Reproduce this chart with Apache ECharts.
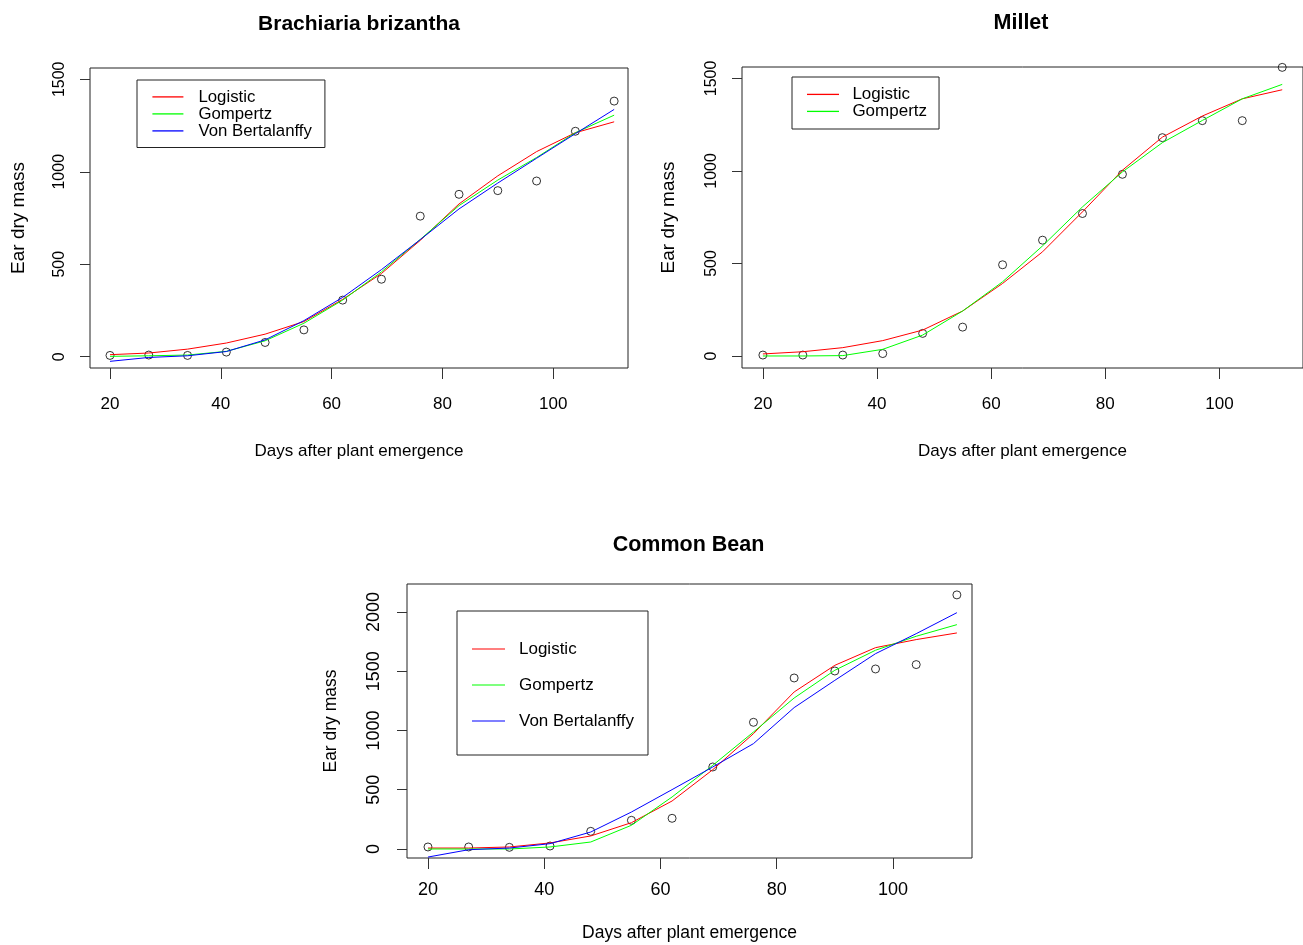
<!DOCTYPE html>
<html>
<head>
<meta charset="utf-8">
<script src="https://cdn.jsdelivr.net/npm/echarts@6/dist/echarts.min.js"></script>
<style>
html,body{margin:0;padding:0;background:#fff;}
#chart{width:1303px;height:945px;}
</style>
</head>
<body>
<div id="chart"></div>
<script>
// ---- data ----
const days = [20, 27, 34, 41, 48, 55, 62, 69, 76, 83, 90, 97, 104, 111];

const brachObs  = [7, 9, 7, 25, 77, 145, 306, 419, 760, 878, 898, 950, 1219, 1382];
const brachLog  = [11, 20, 41, 74, 122, 190, 310, 450, 629, 826, 978, 1109, 1211, 1270];
const brachGomp = [2, 5, 9, 29, 86, 181, 306, 459, 634, 817, 955, 1077, 1211, 1306];
const brachVB   = [-25, -4, 5, 28, 91, 195, 321, 471, 633, 799, 939, 1073, 1206, 1337];

const milletObs  = [5, 5, 5, 13, 122, 156, 493, 626, 770, 982, 1180, 1272, 1272, 1560];
const milletLog  = [11, 23, 45, 83, 140, 243, 392, 563, 779, 1004, 1183, 1297, 1390, 1439];
const milletGomp = [0, 0, 2, 36, 113, 243, 401, 595, 806, 995, 1153, 1273, 1390, 1468];

const beanObs  = [17, 17, 14, 25, 149, 242, 259, 692, 1069, 1443, 1502, 1519, 1556, 2144];
const beanLog  = [8, 8, 17, 51, 110, 222, 405, 669, 973, 1325, 1550, 1699, 1767, 1823];
const beanGomp = [0, 0, 0, 17, 59, 200, 439, 706, 987, 1274, 1508, 1677, 1795, 1893];
const beanVB   = [-68, -6, 8, 45, 143, 312, 501, 692, 889, 1193, 1423, 1648, 1817, 1994];

const xTicks = [20, 40, 60, 80, 100];
const yTicksTop = [0, 500, 1000, 1500];
const yTicksBean = [0, 500, 1000, 1500, 2000];

const titles = ['Brachiaria brizantha', 'Millet', 'Common Bean'];
const xName = 'Days after plant emergence';
const yName = 'Ear dry mass';
const modelNames = ['Logistic', 'Gompertz', 'Von Bertalanffy'];
const modelColors = ['#FF0000', '#00FF00', '#0000FF'];

// ---- helpers ----
const pairs = (vals) => days.map((d, i) => [d, vals[i]]);
const SANS = '"Liberation Sans", Arial, sans-serif';
const plain = (v) => String(v);

function xAxis(gi, min, max, labelSize, labelMargin, nameSize, nameGap) {
  return {
    type: 'value', gridIndex: gi, min: min, max: max,
    axisLine: { show: false, onZero: false },
    splitLine: { show: false },
    axisTick: { show: true, inside: false, length: 11, customValues: xTicks,
      lineStyle: { color: '#333', width: 1 } },
    axisLabel: { show: true, customValues: xTicks, margin: labelMargin, formatter: plain,
      fontFamily: SANS, fontSize: labelSize, color: '#000' },
    name: xName, nameLocation: 'middle', nameGap: nameGap,
    nameTextStyle: { fontFamily: SANS, fontSize: nameSize, color: '#000' }
  };
}
function yAxis(gi, min, max, ticks, labelSize, labelMargin, nameSize, nameGap) {
  return {
    type: 'value', gridIndex: gi, min: min, max: max,
    axisLine: { show: false, onZero: false },
    splitLine: { show: false },
    axisTick: { show: true, inside: false, length: 10, customValues: ticks,
      lineStyle: { color: '#333', width: 1 } },
    axisLabel: { show: true, customValues: ticks, rotate: 90, margin: labelMargin, formatter: plain,
      fontFamily: SANS, fontSize: labelSize, color: '#000' },
    name: yName, nameLocation: 'middle', nameGap: nameGap, nameRotate: 90,
    nameTextStyle: { fontFamily: SANS, fontSize: nameSize, color: '#000' }
  };
}
function scatter(gi, vals) {
  return {
    type: 'scatter', xAxisIndex: gi, yAxisIndex: gi, data: pairs(vals),
    symbol: 'circle', symbolSize: 8, silent: true,
    itemStyle: { color: 'rgba(0,0,0,0)', borderColor: '#000', borderWidth: 1 }
  };
}
function line(gi, name, color, vals) {
  return {
    type: 'line', name: name, xAxisIndex: gi, yAxisIndex: gi, data: pairs(vals),
    symbol: 'none', showSymbol: false, smooth: false,
    lineStyle: { color: color, width: 1 }, itemStyle: { color: color }
  };
}

const gridBox = { show: true, borderColor: '#222', borderWidth: 1, backgroundColor: 'transparent', containLabel: false };

const option = {
  animation: false,
  backgroundColor: '#fff',
  title: [
    { text: titles[0], left: 354, top: 9, textAlign: 'center',
      textStyle: { fontFamily: SANS, fontWeight: 'bold', fontSize: 21, color: '#000' } },
    { text: titles[1], left: 1016, top: 7, textAlign: 'center',
      textStyle: { fontFamily: SANS, fontWeight: 'bold', fontSize: 21.5, color: '#000' } },
    { text: titles[2], left: 683.5, top: 529, textAlign: 'center',
      textStyle: { fontFamily: SANS, fontWeight: 'bold', fontSize: 21.5, color: '#000' } }
  ],
  grid: [
    Object.assign({ left: 90, top: 68, width: 538, height: 300 }, gridBox),
    Object.assign({ left: 742, top: 67, width: 564, height: 301 }, gridBox),
    Object.assign({ left: 407, top: 584, width: 565, height: 274 }, gridBox)
  ],
  xAxis: [
    xAxis(0, 16.39, 113.5, 17, 28, 17, 75),
    xAxis(1, 16.34, 114.64, 17, 28, 17, 75),
    xAxis(2, 16.39, 113.6, 18, 23, 17.5, 66)
  ],
  yAxis: [
    yAxis(0, -61, 1561, yTicksTop, 16, 22, 19, 62),
    yAxis(1, -65, 1562, yTicksTop, 16, 22, 19, 64),
    yAxis(2, -76, 2236, yTicksBean, 18, 24, 17.5, 67)
  ],
  legend: [
    { left: 137, top: 80, orient: 'vertical', icon: 'rect', itemWidth: 31, itemHeight: 1.3,
      itemGap: 0, padding: [8.4, 13, 8.1, 15.4], borderColor: '#222', borderWidth: 1,
      selectedMode: false, data: modelNames,
      textStyle: { fontFamily: SANS, fontSize: 16.8, lineHeight: 16.5, color: '#000', padding: [0, 0, 0, 10] } },
    { left: 792, top: 77, orient: 'vertical', icon: 'rect', itemWidth: 32, itemHeight: 1.3,
      itemGap: 0, padding: [8.9, 12, 9.1, 15], borderColor: '#222', borderWidth: 1,
      selectedMode: false, data: modelNames.slice(0, 2),
      textStyle: { fontFamily: SANS, fontSize: 17, lineHeight: 17, color: '#000', padding: [0, 0, 0, 8.4] } },
    { left: 457, top: 611, orient: 'vertical', icon: 'rect', itemWidth: 33, itemHeight: 1.2,
      itemGap: 16, padding: [28, 14, 24, 15], borderColor: '#222', borderWidth: 1,
      selectedMode: false, data: modelNames,
      textStyle: { fontFamily: SANS, fontSize: 17, lineHeight: 20, color: '#000', padding: [0, 0, 0, 9] } }
  ],
  series: [
    scatter(0, brachObs),
    line(0, modelNames[0], modelColors[0], brachLog),
    line(0, modelNames[1], modelColors[1], brachGomp),
    line(0, modelNames[2], modelColors[2], brachVB),
    scatter(1, milletObs),
    line(1, modelNames[0], modelColors[0], milletLog),
    line(1, modelNames[1], modelColors[1], milletGomp),
    scatter(2, beanObs),
    line(2, modelNames[0], modelColors[0], beanLog),
    line(2, modelNames[1], modelColors[1], beanGomp),
    line(2, modelNames[2], modelColors[2], beanVB)
  ]
};

const chart = echarts.init(document.getElementById('chart'), null, { renderer: 'canvas' });
chart.setOption(option);
</script>
</body>
</html>
